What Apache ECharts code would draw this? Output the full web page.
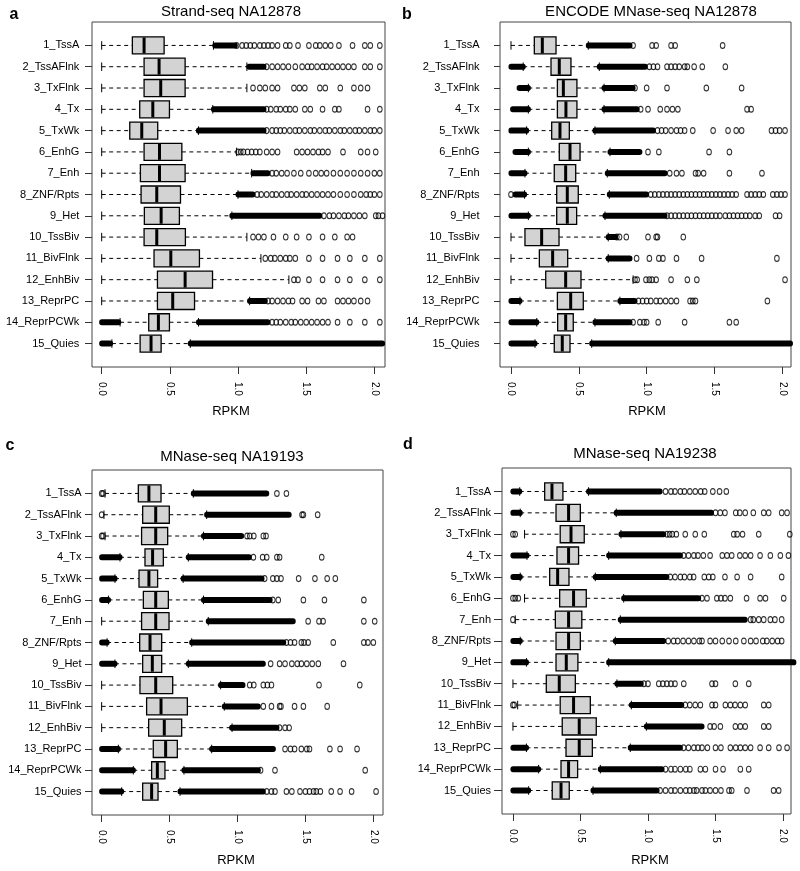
<!DOCTYPE html>
<html>
<head>
<meta charset="utf-8">
<script src="https://cdn.jsdelivr.net/npm/echarts@6.0.0/dist/echarts.min.js"></script>
<style>
html,body{margin:0;padding:0;background:#fff;}
#chart{width:800px;height:871px;}
</style>
</head>
<body>
<div id="chart"></div>
<script>
// ---------- DATA ----------
const categories = ['1_TssA','2_TssAFlnk','3_TxFlnk','4_Tx','5_TxWk','6_EnhG','7_Enh','8_ZNF/Rpts','9_Het','10_TssBiv','11_BivFlnk','12_EnhBiv','13_ReprPC','14_ReprPCWk','15_Quies'];
const xTicks = [0, 0.5, 1.0, 1.5, 2.0];
const panelTitles = ['Strand-seq NA12878', 'ENCODE MNase-seq NA12878', 'MNase-seq NA19193', 'MNase-seq NA19238'];
const panelLetters = ['a', 'b', 'c', 'd'];

// stats per row: [lower whisker, Q1, median, Q3, upper whisker]
const aStats = [
  [0,0.225,0.311,0.458,0.82],[0,0.311,0.421,0.612,1.065],[0,0.311,0.433,0.612,1.065],
  [0,0.279,0.375,0.497,0.815],[0,0.206,0.294,0.411,0.71],[0,0.311,0.424,0.588,0.99],
  [0,0.284,0.424,0.612,1.10],[0,0.289,0.404,0.578,1.0],[0,0.313,0.436,0.570,0.955],
  [0,0.311,0.404,0.614,1.065],[0,0.384,0.507,0.717,1.168],[0,0.409,0.612,0.813,1.373],
  [0,0.409,0.521,0.681,1.085],[0.135,0.345,0.416,0.497,0.71],[0.075,0.282,0.362,0.436,0.65]
];
// dense outlier runs: [row, from, to]
const aDense = [
  [1,0.83,0.98],[2,1.08,1.19],[4,0.82,1.19],[5,0.71,1.19],[7,1.11,1.22],[8,1.0,1.11],
  [9,0.955,1.60],[13,1.085,1.2],[14,0,0.125],[14,0.71,1.22],[15,0,0.065],[15,0.65,2.06]
];
const aOutliers = [
  [0.99,1.03,1.06,1.09,1.12,1.16,1.19,1.22,1.25,1.29,1.35,1.38,1.44,1.52,1.57,1.60,1.64,1.68,1.74,1.84,1.93,1.97,2.04],
  [1.21,1.25,1.29,1.33,1.37,1.42,1.47,1.51,1.54,1.58,1.62,1.65,1.69,1.73,1.77,1.81,1.85,1.93,1.97,2.04],
  [1.11,1.16,1.20,1.25,1.29,1.41,1.45,1.49,1.60,1.64,1.75,1.85,1.90,1.95],
  [1.21,1.24,1.28,1.31,1.35,1.38,1.42,1.49,1.53,1.62,1.71,1.74,1.95,2.04],
  [1.21,1.25,1.28,1.31,1.34,1.38,1.42,1.45,1.49,1.53,1.56,1.60,1.64,1.67,1.71,1.75,1.78,1.82,1.86,1.89,1.93,1.97,2.0,2.04],
  [1.0,1.02,1.04,1.07,1.10,1.13,1.16,1.21,1.25,1.29,1.43,1.47,1.51,1.55,1.59,1.62,1.66,1.77,1.90,1.95,2.01],
  [1.25,1.28,1.32,1.36,1.41,1.46,1.52,1.57,1.61,1.65,1.70,1.75,1.80,1.85,1.90,1.95,2.0,2.04],
  [1.14,1.17,1.21,1.25,1.28,1.32,1.36,1.39,1.43,1.47,1.50,1.54,1.58,1.62,1.66,1.70,1.75,1.80,1.85,1.90,1.94,1.97,2.0,2.04],
  [1.63,1.67,1.70,1.74,1.78,1.81,1.85,1.89,1.93,2.01,2.03,2.06],
  [1.11,1.15,1.19,1.26,1.35,1.43,1.52,1.62,1.71,1.80,1.84],
  [1.20,1.24,1.27,1.31,1.35,1.38,1.42,1.52,1.62,1.73,1.82,1.93,2.04],
  [1.41,1.44,1.52,1.62,1.73,1.82,1.93,2.04],
  [1.22,1.25,1.29,1.33,1.37,1.40,1.47,1.51,1.59,1.63,1.73,1.77,1.81,1.85,1.90,1.95],
  [1.25,1.28,1.31,1.35,1.39,1.42,1.46,1.50,1.54,1.58,1.62,1.66,1.73,1.82,1.93,2.04],
  []
];

const bStats = [
  [0,0.172,0.231,0.332,0.57],[0.09,0.295,0.356,0.442,0.651],[0.128,0.342,0.386,0.486,0.686],
  [0.128,0.342,0.405,0.486,0.686],[0.115,0.30,0.361,0.43,0.619],[0.128,0.356,0.435,0.509,0.73],
  [0.103,0.319,0.403,0.477,0.71],[0.10,0.337,0.415,0.496,0.725],[0.128,0.337,0.415,0.484,0.693],
  [0,0.103,0.226,0.354,0.717],[0,0.209,0.307,0.418,0.717],[0,0.256,0.403,0.516,0.90],
  [0.066,0.342,0.44,0.533,0.803],[0.19,0.344,0.403,0.459,0.619],[0.177,0.319,0.378,0.435,0.595]
];
const bDense = [
  [2,0,0.09],[3,0.06,0.128],[4,0.012,0.128],[5,0,0.115],[6,0.03,0.128],[7,0,0.103],[8,0.03,0.10],
  [9,0,0.128],[13,0,0.066],[14,0,0.19],[15,0,0.177],
  [1,0.57,0.877],[2,0.651,0.99],[3,0.686,0.90],[4,0.686,0.93],[5,0.619,1.05],[6,0.73,0.95],
  [7,0.71,1.135],[8,0.725,1.0],[9,0.693,1.135],[10,0.717,0.77],[11,0.717,0.877],[13,0.803,0.914],
  [14,0.619,0.877],[15,0.595,2.06]
];
const bOutliers = [
  [0.90,1.04,1.07,1.18,1.21,1.56],
  [1.02,1.05,1.08,1.15,1.18,1.21,1.24,1.28,1.30,1.35,1.41,1.58],
  [0.914,1.0,1.15,1.44,1.70],
  [0.956,1.01,1.10,1.15,1.19,1.23,1.74,1.77],
  [1.08,1.11,1.14,1.18,1.22,1.25,1.28,1.34,1.49,1.60,1.66,1.70,1.92,1.95,1.98,2.02],
  [1.01,1.09,1.46,1.61],
  [1.17,1.22,1.26,1.36,1.38,1.42,1.61,1.85],
  [0.0,1.03,1.06,1.09,1.12,1.15,1.18,1.21,1.24,1.27,1.30,1.33,1.36,1.39,1.42,1.45,1.48,1.51,1.54,1.57,1.60,1.63,1.66,1.74,1.77,1.80,1.83,1.86,1.93,1.96,1.99,2.02],
  [1.15,1.18,1.21,1.24,1.27,1.30,1.33,1.36,1.39,1.42,1.45,1.48,1.51,1.54,1.58,1.61,1.64,1.67,1.70,1.73,1.76,1.80,1.83,1.95,1.98,2.07],
  [0.78,0.80,0.85,1.01,1.07,1.08,1.27],
  [0.926,1.02,1.09,1.12,1.22,1.405,1.96],
  [0.914,0.93,0.995,1.02,1.04,1.07,1.18,1.30,1.37,2.02],
  [0.94,0.97,1.0,1.03,1.07,1.10,1.14,1.18,1.22,1.32,1.34,1.36,1.89],
  [0.90,0.95,0.98,1.0,1.085,1.28,1.61,1.66],
  []
];

const cStats = [
  [0.025,0.27,0.348,0.437,0.675],[0.017,0.302,0.398,0.498,0.773],[0.025,0.294,0.398,0.486,0.75],
  [0.135,0.319,0.375,0.454,0.638],[0.098,0.275,0.348,0.412,0.60],[0.05,0.307,0.398,0.491,0.75],
  [0,0.294,0.398,0.496,0.785],[0.04,0.28,0.356,0.442,0.663],[0.098,0.302,0.373,0.442,0.638],
  [0,0.282,0.398,0.523,0.876],[0,0.331,0.437,0.631,0.903],[0,0.346,0.461,0.589,0.96],
  [0.123,0.38,0.471,0.557,0.81],[0.233,0.368,0.41,0.466,0.606],[0.147,0.302,0.368,0.415,0.577]
];
const cDense = [
  [4,0,0.135],[5,0,0.098],[6,0,0.05],[8,0,0.04],[9,0,0.098],[13,0,0.123],[14,0,0.233],[15,0,0.147],
  [1,0.675,1.215],[2,0.773,1.38],[3,0.75,1.03],[4,0.638,1.087],[5,0.60,1.18],[6,0.75,1.24],
  [7,0.785,1.41],[8,0.663,1.34],[9,0.638,1.19],[10,0.876,1.04],[11,0.903,1.153],[12,0.957,1.29],
  [13,0.81,1.264],[14,0.606,1.153],[15,0.577,1.19]
];
const cOutliers = [
  [0,0.01,1.29,1.36],
  [0,1.475,1.485,1.59],
  [0,0.01,1.07,1.09,1.12,1.19,1.21],
  [1.117,1.185,1.215,1.29,1.31,1.62],
  [1.20,1.26,1.29,1.32,1.45,1.57,1.66,1.72],
  [1.26,1.30,1.485,1.64,1.93],
  [1.52,1.60,1.63,1.93,2.01],
  [1.36,1.39,1.42,1.47,1.49,1.52,1.705,1.93,1.96,2.0],
  [1.244,1.31,1.35,1.40,1.44,1.47,1.51,1.55,1.595,1.78],
  [1.09,1.12,1.19,1.22,1.25,1.60,1.90],
  [1.19,1.25,1.31,1.32,1.42,1.485,1.66],
  [1.31,1.35,1.38],
  [1.35,1.39,1.42,1.47,1.51,1.53,1.68,1.755,1.88],
  [1.17,1.276,1.94],
  [1.215,1.25,1.276,1.36,1.40,1.46,1.50,1.53,1.56,1.58,1.61,1.69,1.755,1.84,2.02]
];

const dStats = [
  [0.05,0.235,0.289,0.37,0.56],[0.054,0.319,0.412,0.499,0.765],[0.086,0.35,0.43,0.528,0.80],
  [0.104,0.326,0.412,0.486,0.709],[0.054,0.272,0.331,0.415,0.61],[0.086,0.346,0.449,0.543,0.82],
  [0.017,0.314,0.412,0.51,0.795],[0.054,0.319,0.412,0.499,0.758],[0.10,0.319,0.395,0.481,0.709],
  [0,0.247,0.343,0.462,0.77],[0.035,0.35,0.449,0.573,0.877],[0,0.365,0.491,0.617,0.988],
  [0.10,0.393,0.491,0.588,0.869],[0.19,0.356,0.412,0.479,0.647],[0.116,0.291,0.356,0.417,0.593]
];
const dDense = [
  [1,0,0.05],[2,0,0.054],[4,0,0.104],[5,0,0.054],[8,0,0.054],[9,0,0.10],[13,0,0.10],[14,0,0.19],[15,0,0.116],
  [1,0.56,1.09],[2,0.765,1.47],[3,0.80,1.116],[4,0.709,1.24],[5,0.61,1.14],[6,0.82,1.375],
  [7,0.795,1.72],[8,0.758,1.116],[9,0.709,2.08],[10,0.77,0.95],[11,0.877,1.25],[12,0.988,1.40],
  [13,0.869,1.24],[14,0.647,1.104],[15,0.593,1.067]
];
const dOutliers = [
  [1.13,1.17,1.20,1.24,1.27,1.31,1.35,1.39,1.42,1.48,1.53,1.58],
  [1.50,1.535,1.57,1.65,1.68,1.72,1.78,1.857,1.894,1.99,2.03],
  [0,0.017,1.14,1.16,1.18,1.21,1.276,1.35,1.417,1.635,1.66,1.70,1.82,2.05],
  [1.264,1.30,1.34,1.37,1.41,1.46,1.55,1.585,1.62,1.68,1.72,1.76,1.83,1.906,1.98,2.04],
  [1.165,1.20,1.24,1.27,1.31,1.338,1.417,1.45,1.48,1.57,1.66,1.76,1.99],
  [0,0.017,0.04,1.40,1.437,1.51,1.54,1.57,1.61,1.73,1.83,1.87,2.005],
  [0,1.76,1.78,1.82,1.857,1.906,1.94,1.99],
  [1.15,1.19,1.22,1.26,1.30,1.34,1.38,1.40,1.46,1.50,1.55,1.60,1.65,1.71,1.76,1.80,1.85,1.88,1.92,1.96,1.99],
  [],
  [0.97,1.0,1.08,1.11,1.14,1.17,1.2,1.265,1.474,1.50,1.647,1.746],
  [0,0.01,1.276,1.31,1.35,1.388,1.474,1.50,1.573,1.61,1.645,1.684,1.72,1.857,1.894],
  [1.46,1.49,1.536,1.647,1.684,1.72,1.857,1.894],
  [1.264,1.30,1.34,1.37,1.40,1.44,1.50,1.54,1.61,1.65,1.684,1.72,1.76,1.83,1.894,1.97,2.03,2.07],
  [1.13,1.17,1.20,1.24,1.28,1.31,1.388,1.425,1.50,1.556,1.684,1.746],
  [1.09,1.13,1.17,1.20,1.24,1.28,1.31,1.34,1.36,1.40,1.425,1.46,1.50,1.54,1.60,1.62,1.733,1.93,1.968]
];

// ---------- LAYOUT ----------
const panels = [
  {stats:aStats, dense:aDense, out:aOutliers, grid:{left:92, top:22, width:293, height:345}, xr:[-0.071,2.078], ym:12.7, tl:7,
   title:[231,12], letter:[14,15], xname:[231,411]},
  {stats:bStats, dense:bDense, out:bOutliers, grid:{left:500, top:22, width:291, height:345}, xr:[-0.081,2.064], ym:20.5, tl:6,
   title:[651,12], letter:[407,15], xname:[647,411]},
  {stats:cStats, dense:cDense, out:cOutliers, grid:{left:92, top:470, width:291, height:345}, xr:[-0.071,2.071], ym:10.5, tl:7,
   title:[232,457], letter:[10,446], xname:[236,860]},
  {stats:dStats, dense:dDense, out:dOutliers, grid:{left:502, top:468, width:289, height:346}, xr:[-0.081,2.059], ym:11, tl:8,
   title:[645,454], letter:[408,445], xname:[650,860]}
];

const FONT = '"Liberation Sans", Arial, Helvetica, sans-serif';
const rowVals = categories.map((c,i)=>i+1);

function renderBox(params, api) {
  const y = api.value(0);
  const lo = api.coord([api.value(1), y]);
  const q1 = api.coord([api.value(2), y]);
  const md = api.coord([api.value(3), y]);
  const q3 = api.coord([api.value(4), y]);
  const hi = api.coord([api.value(5), y]);
  const bh = api.size([0, 0.8])[1];
  const sh = api.size([0, 0.4])[1];
  const cy = lo[1];
  const dash = {stroke:'#000', lineWidth:1, lineDash:[4,3.5]};
  const solid = {stroke:'#000', lineWidth:1};
  return {type:'group', children:[
    {type:'line', shape:{x1:lo[0], y1:cy, x2:q1[0], y2:cy}, style:dash},
    {type:'line', shape:{x1:q3[0], y1:cy, x2:hi[0], y2:cy}, style:dash},
    {type:'line', shape:{x1:lo[0], y1:cy-sh/2, x2:lo[0], y2:cy+sh/2}, style:solid},
    {type:'line', shape:{x1:hi[0], y1:cy-sh/2, x2:hi[0], y2:cy+sh/2}, style:solid},
    {type:'rect', shape:{x:q1[0], y:cy-bh/2, width:q3[0]-q1[0], height:bh}, style:{fill:'#d3d3d3', stroke:'#000', lineWidth:1.3}},
    {type:'line', shape:{x1:md[0], y1:cy-bh/2+0.6, x2:md[0], y2:cy+bh/2-0.6}, style:{stroke:'#000', lineWidth:3}}
  ]};
}

function renderDense(params, api) {
  const y = api.value(0);
  const a = api.coord([api.value(1), y]);
  const b = api.coord([api.value(2), y]);
  const h = 6, r = 2.5;
  return {type:'rect', shape:{x:a[0]-r, y:a[1]-h/2, width:(b[0]-a[0])+2*r, height:h, r:[2.7,2.7,2.7,2.7]},
          style:{fill:'#000'}};
}

const grids = [], xAxes = [], yAxes = [], series = [], graphics = [];
panels.forEach((p, i) => {
  grids.push(Object.assign({show:true, borderColor:'#444', borderWidth:1, backgroundColor:'transparent', containLabel:false}, p.grid));
  xAxes.push({
    type:'value', gridIndex:i, min:p.xr[0], max:p.xr[1], position:'bottom',
    axisLine:{show:false, onZero:false}, splitLine:{show:false},
    axisTick:{show:true, length:7, lineStyle:{color:'#333', width:1}, customValues:xTicks},
    axisLabel:{show:true, rotate:-90, margin:15, fontSize:10, color:'#000', fontFamily:FONT,
               customValues:xTicks, formatter:v=>Number(v).toFixed(1)}
  });
  yAxes.push({
    type:'value', gridIndex:i, min:-0.1, max:16.1, inverse:true, position:'left',
    axisLine:{show:false, onZero:false}, splitLine:{show:false},
    axisTick:{show:true, length:p.tl, lineStyle:{color:'#333', width:1}, customValues:rowVals},
    axisLabel:{show:true, margin:p.ym, fontSize:11, color:'#000', fontFamily:FONT,
               customValues:rowVals, formatter:v=>categories[Math.round(v)-1] || ''}
  });
  series.push({
    type:'custom', xAxisIndex:i, yAxisIndex:i, renderItem:renderBox, silent:true,
    data:p.stats.map((s,k)=>[k+1].concat(s)), encode:{x:[1,2,3,4,5], y:0}, z:3
  });
  series.push({
    type:'custom', xAxisIndex:i, yAxisIndex:i, renderItem:renderDense, silent:true,
    data:p.dense, encode:{x:[1,2], y:0}, z:2
  });
  const pts = [];
  p.out.forEach((row,k)=>row.forEach(v=>pts.push([v,k+1])));
  series.push({
    type:'scatter', xAxisIndex:i, yAxisIndex:i, silent:true, data:pts,
    symbol:'circle', symbolSize:[4.6,5.8],
    itemStyle:{color:'rgba(0,0,0,0)', borderColor:'#000', borderWidth:1.1}, z:2
  });
  graphics.push({type:'text', x:p.title[0], y:p.title[1],
    style:{text:panelTitles[i], fontSize:15, fontFamily:FONT, fill:'#000', textAlign:'center', textVerticalAlign:'middle'}});
  graphics.push({type:'text', x:p.letter[0], y:p.letter[1],
    style:{text:panelLetters[i], fontSize:16, fontWeight:'bold', fontFamily:FONT, fill:'#000', textAlign:'center', textVerticalAlign:'middle'}});
  graphics.push({type:'text', x:p.xname[0], y:p.xname[1],
    style:{text:'RPKM', fontSize:13, fontFamily:FONT, fill:'#000', textAlign:'center', textVerticalAlign:'middle'}});
});

const chart = echarts.init(document.getElementById('chart'), null, {renderer:'canvas'});
chart.setOption({
  animation:false,
  backgroundColor:'#fff',
  grid:grids, xAxis:xAxes, yAxis:yAxes, series:series, graphic:graphics
});
</script>
</body>
</html>
